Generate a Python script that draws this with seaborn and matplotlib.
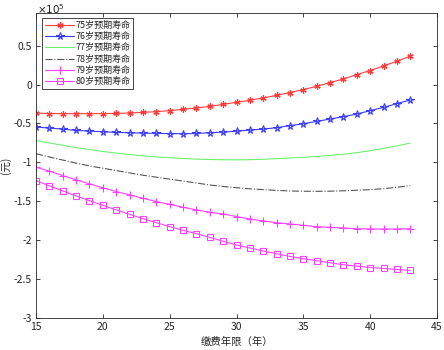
import numpy as np
import pandas as pd
import matplotlib
matplotlib.use("Agg")
import matplotlib.pyplot as plt
import seaborn as sns

years = list(range(15, 44))
labels = ["75岁预期寿命", "76岁预期寿命", "77岁预期寿命", "78岁预期寿命", "79岁预期寿命", "80岁预期寿命"]

# values in units of 1e5 yuan
v75 = [-0.366, -0.372, -0.374, -0.374, -0.374, -0.374, -0.370, -0.366, -0.357, -0.348,
       -0.335, -0.318, -0.301, -0.280, -0.254, -0.228, -0.202, -0.172, -0.138, -0.103,
       -0.064, -0.022, 0.026, 0.072, 0.129, 0.180, 0.240, 0.300, 0.365]
v76 = [-0.546, -0.559, -0.572, -0.589, -0.598, -0.606, -0.615, -0.619, -0.624, -0.627,
       -0.630, -0.632, -0.628, -0.619, -0.611, -0.598, -0.585, -0.572, -0.554, -0.528,
       -0.503, -0.473, -0.443, -0.412, -0.379, -0.335, -0.293, -0.245, -0.198]
v77 = [-0.718, -0.750, -0.780, -0.810, -0.835, -0.860, -0.880, -0.900, -0.915, -0.930,
       -0.940, -0.950, -0.958, -0.963, -0.966, -0.967, -0.965, -0.960, -0.952, -0.943,
       -0.935, -0.924, -0.910, -0.895, -0.875, -0.850, -0.820, -0.788, -0.752]
v78 = [-0.889, -0.930, -0.970, -1.010, -1.045, -1.075, -1.105, -1.135, -1.165, -1.190,
       -1.215, -1.240, -1.265, -1.290, -1.310, -1.325, -1.340, -1.350, -1.360, -1.367,
       -1.371, -1.372, -1.370, -1.365, -1.358, -1.350, -1.338, -1.320, -1.298]
v79 = [-1.062, -1.113, -1.169, -1.224, -1.276, -1.327, -1.375, -1.418, -1.461, -1.504,
       -1.539, -1.577, -1.611, -1.642, -1.662, -1.697, -1.727, -1.753, -1.775, -1.791,
       -1.809, -1.826, -1.835, -1.843, -1.852, -1.856, -1.856, -1.856, -1.852]
v80 = [-1.233, -1.302, -1.366, -1.431, -1.491, -1.552, -1.611, -1.668, -1.723, -1.775,
       -1.826, -1.874, -1.916, -1.964, -2.015, -2.062, -2.100, -2.139, -2.174, -2.209,
       -2.238, -2.264, -2.290, -2.316, -2.333, -2.351, -2.363, -2.376, -2.389]

xticks = [15, 20, 25, 30, 35, 40, 45]
yticks = [-3, -2.5, -2, -1.5, -1, -0.5, 0, 0.5]

sns.set_style("ticks")
plt.rcParams["font.family"] = ["Noto Sans CJK SC", "DejaVu Sans"]
plt.rcParams["axes.unicode_minus"] = False

fig = plt.figure(figsize=(4.44, 3.5), dpi=100)
ax = fig.add_axes([36 / 444, 1 - 318 / 350, 401 / 444, 305 / 350])

styles = [
    dict(color="#ff3b3b", marker=(6, 2, 0), linestyle="-", markersize=4.5, markeredgewidth=0.9),
    dict(color="#3b3bff", marker="*", linestyle="-", markersize=5.5, markerfacecolor="none", markeredgewidth=0.8),
    dict(color="#70f070", marker="None", linestyle="-"),
    dict(color="#555555", marker="None", linestyle="-."),
    dict(color="#ff40ff", marker="+", linestyle="-", markersize=5.5, markeredgewidth=0.8),
    dict(color="#ff40ff", marker="s", linestyle="-", markersize=4, markerfacecolor="none", markeredgewidth=0.8),
]
series = [v75, v76, v77, v78, v79, v80]
for lab, vals, st in zip(labels, series, styles):
    df = pd.DataFrame({"year": years, "val": vals})
    n_before = len(ax.lines)
    sns.lineplot(data=df, x="year", y="val", ax=ax, color=st["color"], linewidth=0.8, legend=False)
    line = ax.lines[n_before]
    line.set_label(lab)
    line.set_linestyle(st["linestyle"])
    line.set_marker(st["marker"])
    if "markersize" in st:
        line.set_markersize(st["markersize"])
        line.set_markeredgewidth(st["markeredgewidth"])
        line.set_markeredgecolor(st["color"])
        line.set_markerfacecolor(st.get("markerfacecolor", st["color"]))

ax.set_xlim(15, 45)
ax.set_ylim(-3, 0.92)
ax.set_xticks(xticks)
ax.set_yticks(yticks)
ax.set_yticklabels([("%g" % t) for t in yticks])
ax.tick_params(direction="in", top=True, right=True, labelsize=7.5, length=3,
               width=0.6, colors="#262626", pad=3)
for s in ax.spines.values():
    s.set_linewidth(0.6)
    s.set_color("#262626")
    s.set_visible(True)

ax.set_xlabel("缴费年限（年）", fontsize=7.5, color="#262626", labelpad=3)
ax.set_ylabel("(元)", fontsize=7.5, color="#262626", labelpad=2)
fig.text(37 / 444, 1 - 9 / 350, r"$\times10^{5}$", fontsize=7.5, color="#262626",
         ha="left", va="center")

leg = ax.legend(loc="upper left", bbox_to_anchor=(0.016, 0.984), fontsize=6.5,
                frameon=True, fancybox=False, edgecolor="#262626", framealpha=1,
                handlelength=3.2, labelspacing=0.25, borderpad=0.3, handletextpad=0.15,
                borderaxespad=0)
leg.get_frame().set_linewidth(0.6)

fig.savefig("out.png", dpi=100)
